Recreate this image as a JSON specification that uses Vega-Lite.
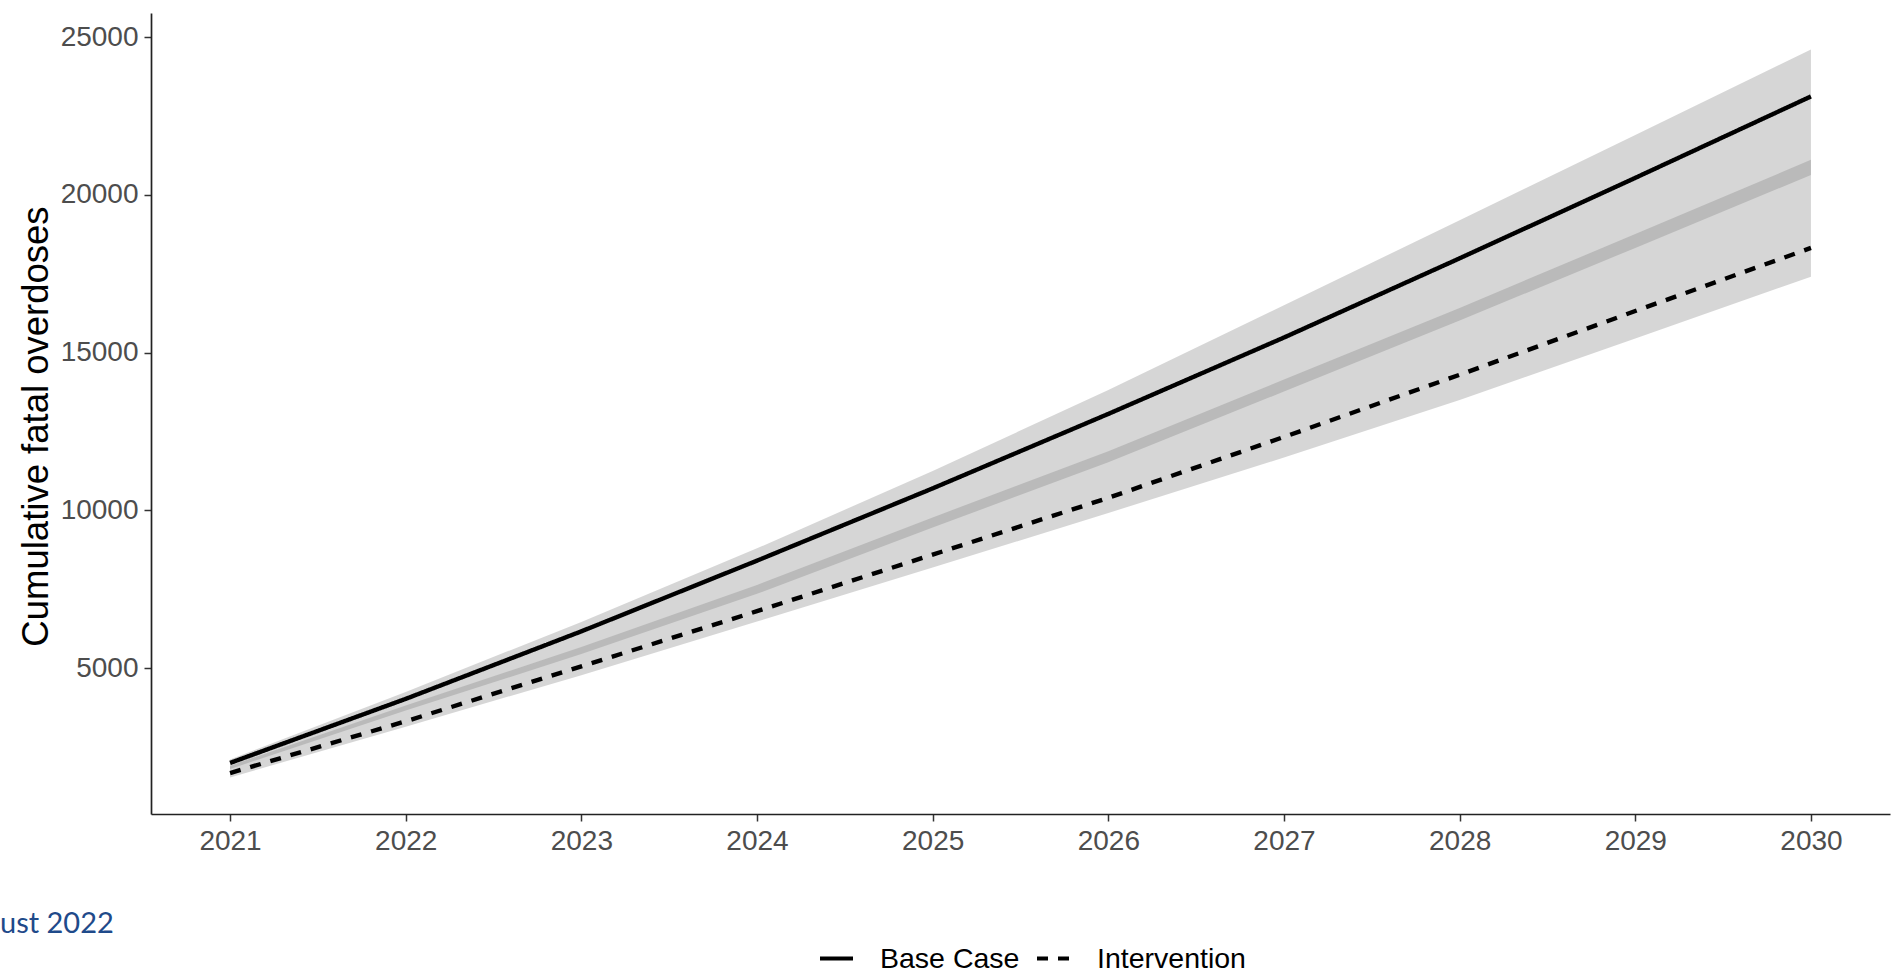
{
  "$schema": "https://vega.github.io/schema/vega-lite/v6.json",
  "width": 1739,
  "height": 801,
  "autosize": {"type": "none"},
  "padding": {"left": 151, "top": 13, "right": 6, "bottom": 166},
  "background": "white",
  "title": {
    "text": "ust 2022",
    "orient": "bottom",
    "anchor": "start",
    "frame": "group",
    "font": "Lato",
    "fontSize": 29,
    "fontWeight": "normal",
    "color": "#1f4a8a",
    "baseline": "alphabetic",
    "offset": 0,
    "dx": -151,
    "dy": -40
  },
  "data": {
    "values": [
      {"year": 2021, "scenario": "Base Case", "value": 2000, "lower": 1810, "upper": 2110},
      {"year": 2022, "scenario": "Base Case", "value": 4030, "lower": 3660, "upper": 4250},
      {"year": 2023, "scenario": "Base Case", "value": 6170, "lower": 5450, "upper": 6470},
      {"year": 2024, "scenario": "Base Case", "value": 8410, "lower": 7360, "upper": 8800},
      {"year": 2025, "scenario": "Base Case", "value": 10700, "lower": 9460, "upper": 11250},
      {"year": 2026, "scenario": "Base Case", "value": 13060, "lower": 11525, "upper": 13820},
      {"year": 2027, "scenario": "Base Case", "value": 15480, "lower": 13770, "upper": 16500},
      {"year": 2028, "scenario": "Base Case", "value": 17990, "lower": 16020, "upper": 19200},
      {"year": 2029, "scenario": "Base Case", "value": 20540, "lower": 18320, "upper": 21900},
      {"year": 2030, "scenario": "Base Case", "value": 23120, "lower": 20630, "upper": 24610},
      {"year": 2021, "scenario": "Intervention", "value": 1680, "lower": 1540, "upper": 1910},
      {"year": 2022, "scenario": "Intervention", "value": 3320, "lower": 3150, "upper": 3820},
      {"year": 2023, "scenario": "Intervention", "value": 5060, "lower": 4780, "upper": 5670},
      {"year": 2024, "scenario": "Intervention", "value": 6810, "lower": 6480, "upper": 7640},
      {"year": 2025, "scenario": "Intervention", "value": 8600, "lower": 8190, "upper": 9780},
      {"year": 2026, "scenario": "Intervention", "value": 10400, "lower": 9920, "upper": 11875},
      {"year": 2027, "scenario": "Intervention", "value": 12330, "lower": 11680, "upper": 14150},
      {"year": 2028, "scenario": "Intervention", "value": 14300, "lower": 13500, "upper": 16420},
      {"year": 2029, "scenario": "Intervention", "value": 16320, "lower": 15450, "upper": 18760},
      {"year": 2030, "scenario": "Intervention", "value": 18320, "lower": 17410, "upper": 21110}
    ]
  },
  "encoding": {
    "x": {
      "field": "year",
      "type": "quantitative",
      "scale": {"domain": [2020.55, 2030.45], "nice": false, "zero": false},
      "axis": {
        "title": null,
        "values": [2021, 2022, 2023, 2024, 2025, 2026, 2027, 2028, 2029, 2030],
        "format": "d",
        "grid": false,
        "labelPadding": 6
      }
    }
  },
  "layer": [
    {
      "mark": {"type": "area", "color": "#808080", "opacity": 0.32},
      "encoding": {
        "y": {"field": "lower", "type": "quantitative"},
        "y2": {"field": "upper"},
        "detail": {"field": "scenario", "type": "nominal"}
      }
    },
    {
      "mark": {"type": "line", "color": "black", "strokeWidth": 4.4},
      "encoding": {
        "y": {
          "field": "value",
          "type": "quantitative",
          "scale": {"domain": [382, 25764], "nice": false, "zero": false},
          "axis": {
            "title": "Cumulative fatal overdoses",
            "values": [5000, 10000, 15000, 20000, 25000],
            "format": "d",
            "grid": false,
            "labelPadding": 6,
            "titleAngle": 270,
            "titleBaseline": "alphabetic",
            "titleAlign": "center",
            "titleX": -104,
            "titleY": 413
          }
        },
        "strokeDash": {
          "field": "scenario",
          "type": "nominal",
          "scale": {"domain": ["Base Case", "Intervention"], "range": [[1, 0], [11, 10]]},
          "legend": {
            "title": null,
            "orient": "none",
            "direction": "horizontal",
            "legendX": 667,
            "legendY": 927
          }
        }
      }
    }
  ],
  "config": {
    "view": {"stroke": null},
    "axis": {
      "domainColor": "#222222",
      "domainWidth": 1.7,
      "tickColor": "#333333",
      "tickWidth": 1.5,
      "tickSize": 7,
      "labelFont": "Liberation Sans",
      "labelFontSize": 28,
      "labelColor": "#4d4d4d",
      "titleFont": "Liberation Sans",
      "titleFontSize": 36.5,
      "titleFontWeight": "normal",
      "titleColor": "black"
    },
    "legend": {
      "labelFont": "Liberation Sans",
      "labelFontSize": 28.5,
      "labelColor": "black",
      "symbolType": "stroke",
      "symbolSize": 1089,
      "symbolStrokeWidth": 4,
      "symbolStrokeColor": "black",
      "labelOffset": 25,
      "columnPadding": 9,
      "padding": 0
    }
  }
}
